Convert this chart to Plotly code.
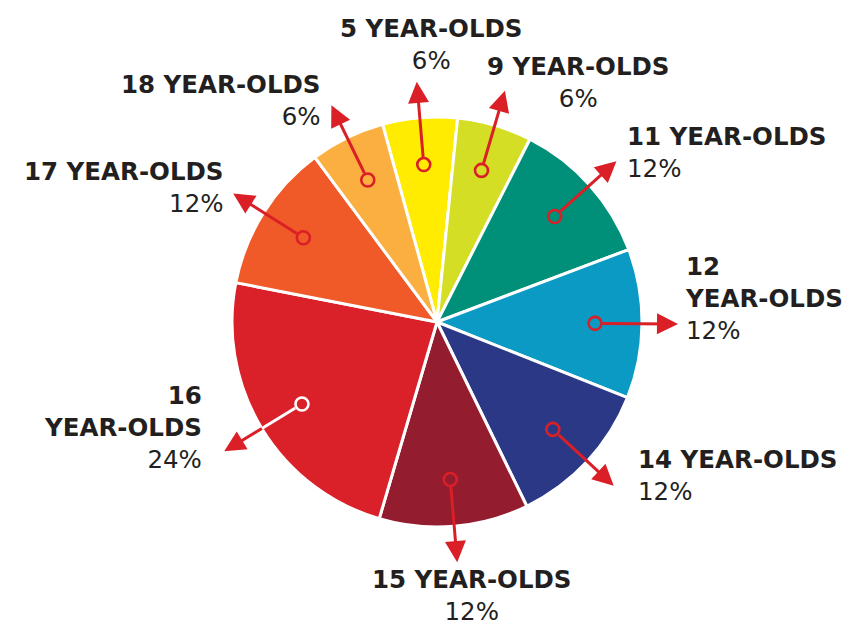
import math
import plotly.graph_objects as go

# ---- data ----
ages = ["5", "9", "11", "12", "14", "15", "16", "17", "18"]
percents = [6, 6, 12, 12, 12, 12, 24, 12, 6]
colors = ["#FFEC00", "#D4DE24", "#008F78", "#0A9AC4", "#2B3886",
          "#931C2E", "#DA2028", "#F05A28", "#FBAF40"]

# ---- layout / style ----
W, H = 842, 626
CX, CY, R = 437, 322, 205
ROTATION = -15.4
R_IN, R_TIP = 158, 241
ARROW_RED = "#DA1F27"
TEXT_COL = "#231F20"
FONT = "DejaVu Sans"

# label placement: (x, y-center, anchor, break before YEAR-OLDS)
label_pos = [
    (431, 44, "center", False),
    (578, 82, "center", False),
    (625, 152, "left", False),
    (683, 298, "left", True),
    (636, 475, "left", False),
    (472, 595, "center", False),
    (204, 427, "right", True),
    (226, 187, "right", False),
    (323, 100, "right", False),
]

fig = go.Figure()

fig.add_trace(go.Pie(
    values=percents,
    labels=[a + " YEAR-OLDS" for a in ages],
    sort=False,
    direction="clockwise",
    rotation=ROTATION,
    marker=dict(colors=colors, line=dict(color="white", width=3)),
    textinfo="none",
    hoverinfo="skip",
    showlegend=False,
    domain=dict(x=[(CX - R) / W, (CX + R) / W],
                y=[1 - (CY + R) / H, 1 - (CY - R) / H]),
))

total = sum(percents)
cum = 0
shapes = []
annotations = []
circle_x, circle_y = [], []
for i, (age, p) in enumerate(zip(ages, percents)):
    mid = ROTATION + (cum + p / 2) / total * 360
    cum += p
    t = math.radians(mid)
    r_tip = R_TIP + (8 if p == max(percents) else 0)
    sx, sy = CX + R_IN * math.sin(t), CY - R_IN * math.cos(t)
    tx, ty = CX + r_tip * math.sin(t), CY - r_tip * math.cos(t)
    ex, ey = CX + R * math.sin(t), CY - R * math.cos(t)
    circle_x.append(sx)
    circle_y.append(sy)
    ring_col = "white" if colors[i] == "#DA2028" else ARROW_RED
    annotations.append(dict(
        x=tx, y=ty, ax=sx, ay=sy, xref="x", yref="y", axref="x", ayref="y",
        text="", showarrow=True, arrowhead=2, arrowsize=1.4, arrowwidth=3,
        arrowcolor=ARROW_RED, startstandoff=6,
    ))
    if ring_col == "white":
        annotations.append(dict(
            x=ex, y=ey, ax=sx, ay=sy, xref="x", yref="y", axref="x", ayref="y",
            text="", showarrow=True, arrowhead=0, arrowwidth=3,
            arrowcolor="white", startstandoff=6,
        ))
    rc = 6.5
    shapes.append(dict(
        type="circle", xref="x", yref="y", layer="above",
        x0=sx - rc, x1=sx + rc, y0=sy - rc, y1=sy + rc,
        line=dict(color=ring_col, width=2.6), fillcolor="rgba(0,0,0,0)",
    ))
    lx, ly, anc, brk = label_pos[i]
    title = f"<b>{age}{'<br>' if brk else ' '}YEAR-OLDS</b>"
    annotations.append(dict(
        x=lx, y=ly, xref="x", yref="y", xanchor=anc, yanchor="middle",
        align=anc,
        text=f"{title}<br>{p}%", showarrow=False,
        font=dict(family=FONT, size=24.5, color=TEXT_COL),
    ))

# invisible helper trace so the pixel-unit axes exist
fig.add_trace(go.Scatter(x=circle_x, y=circle_y, mode="markers",
                         marker=dict(opacity=0), hoverinfo="skip",
                         showlegend=False))

fig.update_layout(
    width=W, height=H,
    margin=dict(l=0, r=0, t=0, b=0),
    paper_bgcolor="white", plot_bgcolor="rgba(0,0,0,0)",
    xaxis=dict(range=[0, W], visible=False, fixedrange=True),
    yaxis=dict(range=[H, 0], visible=False, fixedrange=True),
    shapes=shapes,
    annotations=annotations,
    showlegend=False,
)

fig.write_html("out.html", config={"displayModeBar": False},
               post_script="document.body.style.margin='0';")
